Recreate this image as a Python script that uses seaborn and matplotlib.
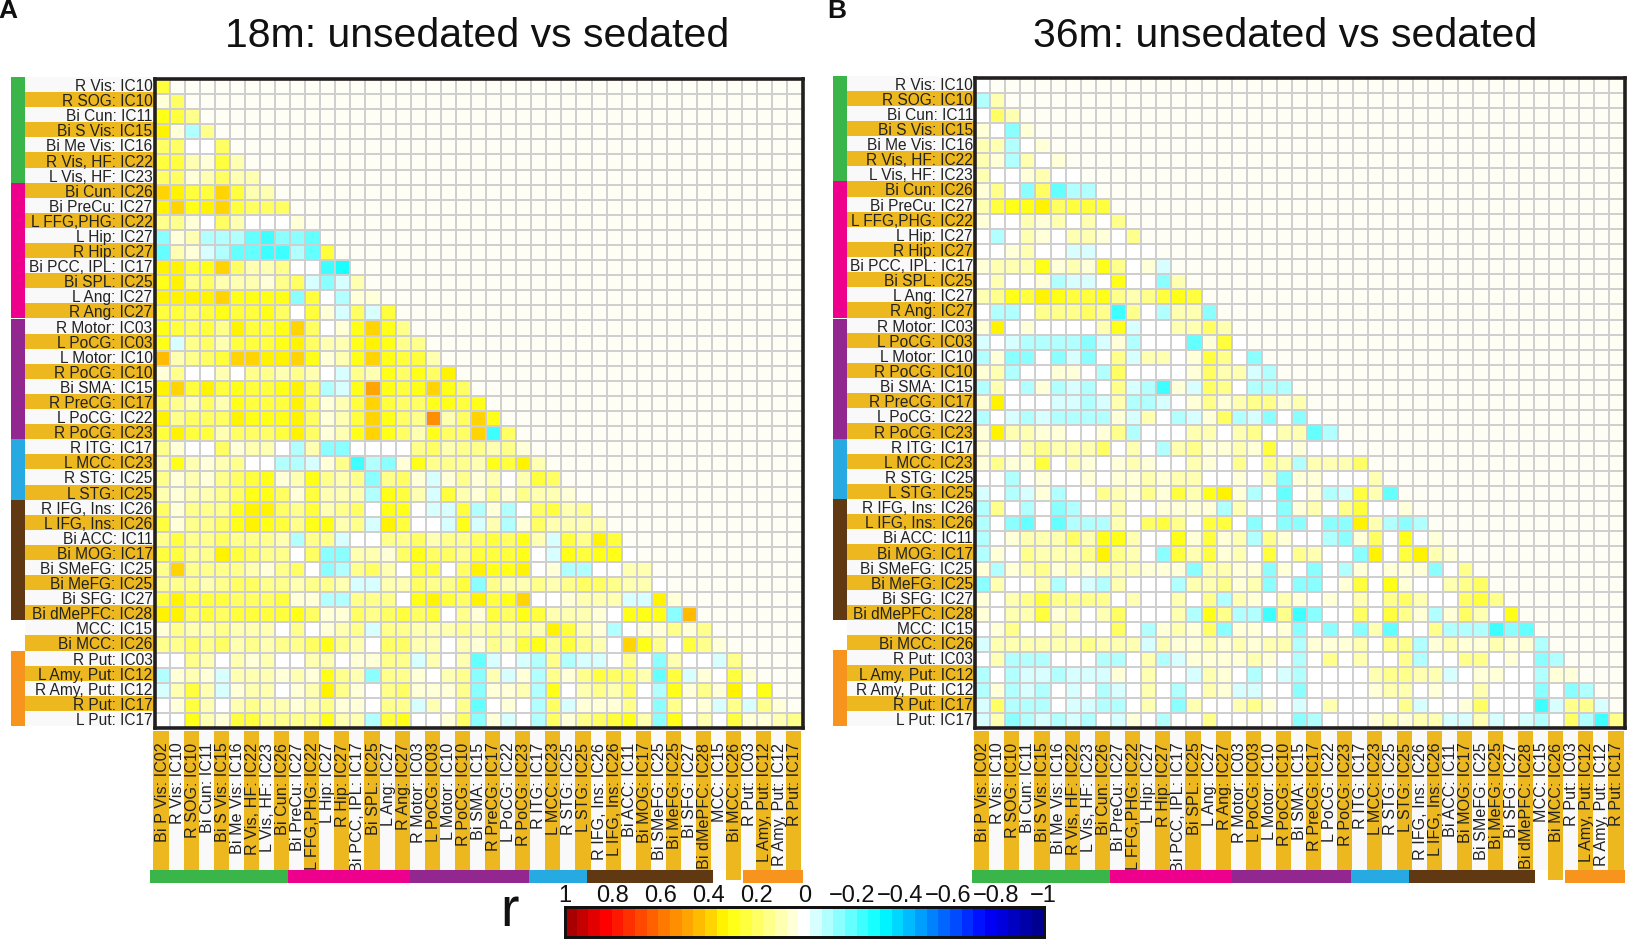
import numpy as np
import matplotlib
matplotlib.use("Agg")
import matplotlib.pyplot as plt
from matplotlib.colors import LinearSegmentedColormap, ListedColormap
from matplotlib.patches import Rectangle
import seaborn as sns

row_labels = ["R Vis: IC10","R SOG: IC10","Bi Cun: IC11","Bi S Vis: IC15","Bi Me Vis: IC16","R Vis, HF: IC22","L Vis, HF: IC23",
 "Bi Cun: IC26","Bi PreCu: IC27","L FFG,PHG: IC22","L Hip: IC27","R Hip: IC27","Bi PCC, IPL: IC17","Bi SPL: IC25","L Ang: IC27","R Ang: IC27",
 "R Motor: IC03","L PoCG: IC03","L Motor: IC10","R PoCG: IC10","Bi SMA: IC15","R PreCG: IC17","L PoCG: IC22","R PoCG: IC23",
 "R ITG: IC17","L MCC: IC23","R STG: IC25","L STG: IC25",
 "R IFG, Ins: IC26","L IFG, Ins: IC26","Bi ACC: IC11","Bi MOG: IC17","Bi SMeFG: IC25","Bi MeFG: IC25","Bi SFG: IC27","Bi dMePFC: IC28",
 "MCC: IC15","Bi MCC: IC26","R Put: IC03","L Amy, Put: IC12","R Amy, Put: IC12","R Put: IC17","L Put: IC17"]
col_labels = ["Bi P Vis: IC02"] + row_labels[:-1]
cbar_ticks = [1,0.8,0.6,0.4,0.2,0,-0.2,-0.4,-0.6,-0.8,-1]
cbar_labels = ["1","0.8","0.6","0.4","0.2","0","\u22120.2","\u22120.4","\u22120.6","\u22120.8","\u22121"]

# r x 100, lower triangle, row by row
left_values = [
[25],
[5,20],
[30,25,15],
[32,5,-10,15],
[20,20,0,2,20],
[25,25,10,7,25,12],
[20,20,7,8,20,8,12],
[37,32,25,25,40,22,8,8],
[35,38,30,32,38,25,18,18,20],
[15,15,7,0,18,10,2,2,2,7],
[-15,5,10,-8,-12,-8,-18,-25,-13,-15,-18],
[-18,10,5,-7,-12,-18,-20,-25,-22,-12,-20,22],
[35,32,25,30,40,20,12,8,15,-2,2,-22,-28],
[30,32,15,18,12,12,12,7,15,20,-3,-13,-3,8],
[35,32,35,32,40,30,30,28,28,-17,25,0,-8,6,6],
[25,22,20,22,30,22,25,30,18,0,25,7,-3,18,-3,22],
[30,25,20,22,15,32,25,25,30,40,18,2,6,30,38,30,17],
[30,-3,15,20,12,25,25,25,30,33,18,10,12,28,35,28,15,15],
[42,12,15,20,22,40,38,32,35,40,30,6,12,30,40,30,22,22,8],
[3,15,0,0,12,2,15,15,10,15,8,2,-3,15,10,30,20,28,20,35],
[35,38,25,32,25,28,25,22,30,36,18,-12,-7,30,48,28,22,30,40,28,18],
[20,13,10,18,12,30,25,22,22,36,18,5,8,22,38,25,18,20,30,28,25,30],
[32,13,18,20,18,32,30,28,27,35,18,5,10,22,40,30,18,17,52,8,18,40,28],
[25,32,22,22,8,20,20,20,22,35,18,5,10,28,38,30,18,8,28,20,18,38,-22,18],
[15,7,0,0,18,6,8,10,-2,-8,10,-16,-15,-2,2,0,-2,15,18,8,15,15,10,15,7],
[10,28,10,7,10,13,0,0,-8,-12,-7,6,15,-22,-8,-15,6,30,15,15,13,12,30,25,32,8],
[13,5,10,7,15,20,25,30,6,10,27,13,10,15,-13,15,18,5,-3,6,15,7,12,2,8,22,18],
[12,6,12,10,15,20,28,30,20,6,22,8,12,12,-8,27,22,8,-3,22,8,7,13,3,13,12,12,3],
[20,7,15,15,15,30,32,32,18,13,22,10,15,18,-2,30,28,1,-3,-3,22,-8,7,-8,0,18,22,8,15],
[22,7,15,15,18,28,32,30,25,15,30,27,10,15,-3,36,25,1,-2,-3,28,-3,8,-9,7,20,10,8,12,10],
[15,22,13,13,20,15,13,13,10,-10,13,15,-3,2,-2,13,13,20,12,15,15,18,25,20,30,10,-3,25,15,32,22],
[22,25,15,15,35,22,18,15,15,-2,18,-16,-15,12,10,7,18,28,18,20,15,25,22,25,28,0,-3,30,22,28,28,-2],
[15,38,15,15,13,15,10,6,15,18,0,-13,-9,15,18,12,-2,25,22,0,18,32,28,28,34,-2,6,-9,-8,0,1,10,12],
[13,15,13,10,15,18,18,13,15,10,15,15,8,-3,-3,10,10,18,15,15,22,-13,15,12,10,15,8,15,20,18,15,10,10,0],
[25,35,25,22,25,20,20,18,22,3,7,-9,-12,15,13,15,-1,30,32,25,20,32,25,30,38,-2,2,3,8,10,10,-3,-3,33,6],
[32,32,20,22,20,22,22,22,22,30,18,7,6,18,15,20,22,18,22,0,15,5,22,18,30,22,10,12,12,7,1,30,30,30,-13,43],
[6,15,12,12,15,12,12,12,0,13,0,7,10,15,-4,15,15,10,10,12,15,12,13,10,15,10,33,25,12,6,-8,1,7,7,15,6,15],
[15,15,18,15,18,12,15,12,15,15,18,30,15,8,0,20,20,12,10,0,8,5,15,10,25,28,13,22,13,10,1,38,27,13,1,25,15,6],
[-2,0,15,10,-2,10,7,10,-1,1,10,10,1,7,6,13,15,-7,8,2,10,-18,-3,2,-3,-8,15,-8,-3,-4,2,13,2,-15,10,-2,-2,-7,15],
[-9,5,12,6,-3,8,12,8,5,8,7,30,15,8,-15,15,15,6,1,8,13,-17,12,-3,6,-8,15,7,15,22,18,20,8,-18,25,-3,6,-2,25,7],
[-3,12,25,10,-3,5,12,12,2,7,12,32,13,6,-2,15,20,5,7,7,15,-13,7,6,10,-8,27,2,10,13,10,20,1,-8,27,6,13,7,32,0,27],
[0,5,22,10,0,12,17,12,8,7,10,17,6,6,1,15,15,-3,10,2,15,-18,2,6,2,-8,18,-3,7,6,6,15,2,-15,13,2,3,-3,17,-3,13,7],
[0,2,28,12,6,22,22,15,15,13,15,30,12,8,-8,22,28,2,2,3,20,-16,6,-3,1,-8,20,7,15,20,22,28,12,-17,28,1,8,-2,22,7,7,10,13],
]
right_values = [
[2],
[-8,12],
[0,20,10],
[6,-2,-15,7],
[12,10,-8,-2,6],
[10,7,-9,8,2,6],
[10,1,-2,7,10,1,-2],
[6,13,-2,-15,18,-18,-8,-9],
[10,22,27,30,32,20,25,25,22],
[6,1,1,12,6,8,2,12,2,13],
[-2,-10,1,10,7,1,10,12,7,1,13],
[-2,1,6,8,1,-2,-3,-3,-2,1,-2,-2],
[6,12,8,10,30,7,10,6,30,15,2,6,-3],
[-1,8,-2,0,7,-8,-3,-3,0,27,0,-2,-14,8],
[10,15,27,25,32,28,25,25,30,15,12,13,25,28,25],
[1,-8,-8,-2,13,15,13,20,13,-26,15,-2,-8,10,12,-15],
[6,32,1,6,1,1,0,-1,8,28,-3,1,1,8,8,20,10],
[-5,-2,-7,-8,-8,-12,-8,-13,-3,6,-8,-1,0,2,-20,7,22,-2],
[-8,6,-13,-14,2,-13,-3,-13,-2,13,-3,10,10,1,6,22,15,0,-16],
[7,10,-8,0,-2,7,7,-2,-9,18,-1,1,-1,-1,6,20,10,8,-3,-8],
[-8,12,-2,-9,7,-9,-3,-8,-2,13,-3,-10,-22,7,-3,18,13,0,-9,-8,-8],
[6,32,1,2,2,-3,-4,-9,-3,8,-12,-8,-3,1,6,15,7,10,17,15,7,8],
[-12,-2,-3,-8,-3,-12,-9,-12,-8,6,-7,10,1,-12,-3,7,20,-8,-3,-16,-2,-16,-2],
[6,32,10,10,7,7,2,-2,7,13,-8,1,1,2,8,10,-2,10,13,-2,8,12,-18,-10],
[5,2,1,12,15,12,10,12,20,1,12,2,-8,10,15,7,5,10,5,22,1,7,0,1,1],
[6,15,6,7,22,1,8,6,-2,7,10,7,1,-1,8,7,1,15,1,15,12,-9,8,12,10,20],
[-2,1,-9,-2,7,-2,1,6,1,6,7,12,7,8,10,1,-2,6,1,12,-14,7,7,-2,-2,0,10],
[-3,-2,-9,-3,6,-8,-2,1,13,8,6,15,7,25,8,30,34,5,-9,1,-18,1,7,-8,-3,22,8,-18],
[-9,13,2,-9,1,-13,-9,-1,1,10,1,1,7,7,7,6,-8,12,1,1,-14,7,10,0,15,22,1,1,6],
[-8,-1,-13,-18,-1,-18,-8,-9,-9,10,-2,20,25,15,2,25,25,1,-13,-2,-17,-13,1,-13,-14,32,12,-8,-13,-10],
[-9,-1,6,12,10,10,18,12,30,27,10,1,1,27,7,25,7,10,-12,13,7,-2,1,-8,-14,7,20,0,27,-2,7],
[-8,7,1,13,10,10,8,13,33,13,8,1,-17,25,10,25,7,12,1,25,-2,17,12,-2,0,-14,33,0,22,32,12,7],
[7,-8,6,10,13,7,12,7,12,10,10,6,7,7,-13,8,8,5,7,-17,7,-2,-13,1,-8,7,-2,7,7,7,-13,-2,15],
[-14,10,1,1,10,-8,-1,-3,-9,10,1,1,2,-9,12,12,13,7,8,-13,-2,-13,-13,-2,6,22,-2,28,7,1,-2,10,17,18],
[7,-2,12,13,25,13,13,13,15,-2,12,1,2,10,-2,15,-8,8,7,-2,12,7,-2,6,1,12,-2,15,18,10,-2,2,18,22,15],
[6,1,10,10,25,7,12,1,8,20,1,-2,1,10,-12,28,13,-8,-8,-24,13,-25,-14,1,-2,18,-2,22,17,7,-8,7,18,12,-2,27],
[1,6,13,1,-2,10,1,2,1,18,1,-9,6,8,6,20,-13,6,7,1,7,-14,1,-15,1,-15,8,-18,-2,-2,13,-8,-8,-8,-24,-16,-18],
[-7,8,8,10,10,10,12,15,12,8,8,-3,8,7,7,8,7,12,7,10,10,-8,6,6,6,8,1,13,15,-8,6,10,7,6,10,6,6,-10],
[-2,12,-10,-8,-8,-1,1,2,-8,-8,1,8,-8,-7,6,7,7,6,10,7,-2,-8,1,15,1,10,1,1,17,-8,1,-2,15,17,-2,6,-2,-13,-10],
[-12,-2,-9,-3,-3,-9,-3,-7,-3,6,1,10,0,1,-3,10,6,1,-8,1,-7,-12,-2,1,-2,1,10,15,17,12,10,-7,-2,7,6,1,1,-9,7,6],
[-8,6,-9,-3,-9,-1,-3,1,-8,-3,1,10,1,-8,-1,12,6,-3,-7,1,-2,-17,-2,1,-2,1,7,8,12,-2,7,-2,1,10,1,-1,-1,-14,1,-16,-9],
[-5,18,-11,-12,-12,0,-7,-7,-11,-8,1,10,-2,-13,10,-2,1,12,17,7,-2,-7,1,10,-1,1,1,1,15,-7,1,-2,7,18,-2,1,-1,-22,-7,13,13,-7],
[-4,8,-13,-11,-3,-8,-7,-8,-2,-7,6,-2,-12,-2,-2,15,-2,-2,1,-2,-2,-17,-9,1,-2,-2,7,12,7,8,8,-7,-3,8,-7,-2,-4,-8,1,18,-8,-22,15],
]

n = len(row_labels)
W, H = 1627, 939
GOLD, PALE = "#EDB81F", "#F9F9FA"
IVORY, GRID = "#FFFEF5", "#CFCFCF"
group_rows = [(0,7,"#39B54A"),(7,16,"#EC008C"),(16,24,"#92278F"),(24,28,"#27AAE1"),(28,36,"#603913"),(38,43,"#F7941E")]
group_cols_px = [(150,288,"#39B54A"),(288,410,"#EC008C"),(410,529,"#92278F"),(529,587,"#27AAE1"),(587,713,"#603913"),(743,803,"#F7941E")]

nodes = [(-1,"#000090"),(-0.78,"#0000FF"),(-0.33,"#00FFFF"),(0,"#FFFFFF"),(0.33,"#FFFF00"),
         (0.42,"#FFC800"),(0.6,"#FF7800"),(0.85,"#FF0000"),(1,"#A80000")]
cmap = LinearSegmentedColormap.from_list("r_scale", [((v+1)/2, c) for v, c in nodes], N=41)

sns.set_style("white")
plt.rcParams["font.family"] = ["Liberation Sans", "DejaVu Sans"]
fig = plt.figure(figsize=(W/100, H/100), dpi=100, facecolor="white")

def rect(x0, y0, x1, y1):
    return [x0/W, 1-y1/H, (x1-x0)/W, (y1-y0)/H]

bg = fig.add_axes([0,0,1,1], zorder=0); bg.set_xlim(0,W); bg.set_ylim(H,0); bg.axis("off")
fg = fig.add_axes([0,0,1,1], zorder=10); fg.set_xlim(0,W); fg.set_ylim(H,0); fg.axis("off")
cax = fig.add_axes(rect(565,907,1043.5,937), zorder=6)

def panel(values, x0, y0, x1, y1, dx, title_x, title, use_cbar):
    m = np.full((n, n), np.nan)
    for i, row in enumerate(values):
        assert len(row) == i+1, (title, i, len(row))
        m[i, :i+1] = np.array(row)/100
    ax = fig.add_axes(rect(x0,y0,x1,y1), zorder=5)
    sns.heatmap(np.zeros((n,n)), ax=ax, cmap=ListedColormap([IVORY]), cbar=False, linewidths=1.2, linecolor=GRID,
                xticklabels=False, yticklabels=False)
    sns.heatmap(m, ax=ax, cmap=cmap, vmin=-1, vmax=1, mask=np.isnan(m), linewidths=1.2, linecolor=GRID,
                xticklabels=col_labels, yticklabels=row_labels,
                cbar=use_cbar, cbar_ax=cax if use_cbar else None,
                cbar_kws={"orientation":"horizontal"} if use_cbar else None)
    ax.set_xlim(0,n); ax.set_ylim(n,0)
    ax.tick_params(axis="y", length=0, pad=1.5, labelsize=11.2, labelrotation=0, labelcolor="#222222")
    ax.tick_params(axis="x", length=0, pad=10.5, labelsize=11.6, labelrotation=90, labelcolor="#222222")
    for s in ax.spines.values():
        s.set_visible(True); s.set_linewidth(2.6); s.set_edgecolor("#231F20")
    step_y = (y1-y0)/n; step_x = (x1-x0)/n
    for i in range(n):
        bg.add_patch(Rectangle((25+dx, y0-2+i*step_y), x0-25-dx, step_y, fc=GOLD if i%2 else PALE, ec="none"))
    for k in range(n):
        bottom = 880 if k == 38 else 870
        bg.add_patch(Rectangle((x0-1+k*step_x, y1+3), step_x, bottom-y1-3, fc=GOLD if k%2==0 else PALE, ec="none"))
    for a, b, c in group_rows:
        fg.add_patch(Rectangle((11+dx, y0-2+a*step_y+(1 if a==16 else 0)), 14, (b-a)*step_y, fc=c, ec="none"))
    for a, b, c in group_cols_px:
        fg.add_patch(Rectangle((a+dx, 870), b-a, 13, fc=c, ec="none"))
    fg.text(title_x, 36, title, ha="center", va="center", fontsize=29.5, color="#111111")
    return ax

panel(left_values, 154.5, 79, 802.5, 728, 0, 477, "18m: unsedated vs sedated", True)
panel(right_values, 975, 77.5, 1624.5, 728, 822, 1285, "36m: unsedated vs sedated", False)

cax.invert_xaxis()
cax.set_xticks(cbar_ticks, cbar_labels)
cax.tick_params(axis="x", direction="in", top=True, bottom=True, labeltop=True, labelbottom=False,
                length=3.5, width=1.2, labelsize=17, pad=0, color="#111111", labelcolor="#111111")
for s in cax.spines.values():
    s.set_visible(True); s.set_linewidth(2); s.set_edgecolor("#111111")

fg.text(510, 926, "r", ha="center", va="baseline", fontsize=40, color="#111111")
fg.text(8, 11, "A", ha="center", va="center", fontsize=19, fontweight="bold", color="#111111")
fg.text(837, 11, "B", ha="center", va="center", fontsize=19, fontweight="bold", color="#111111")

fig.savefig("out.png", dpi=100)
